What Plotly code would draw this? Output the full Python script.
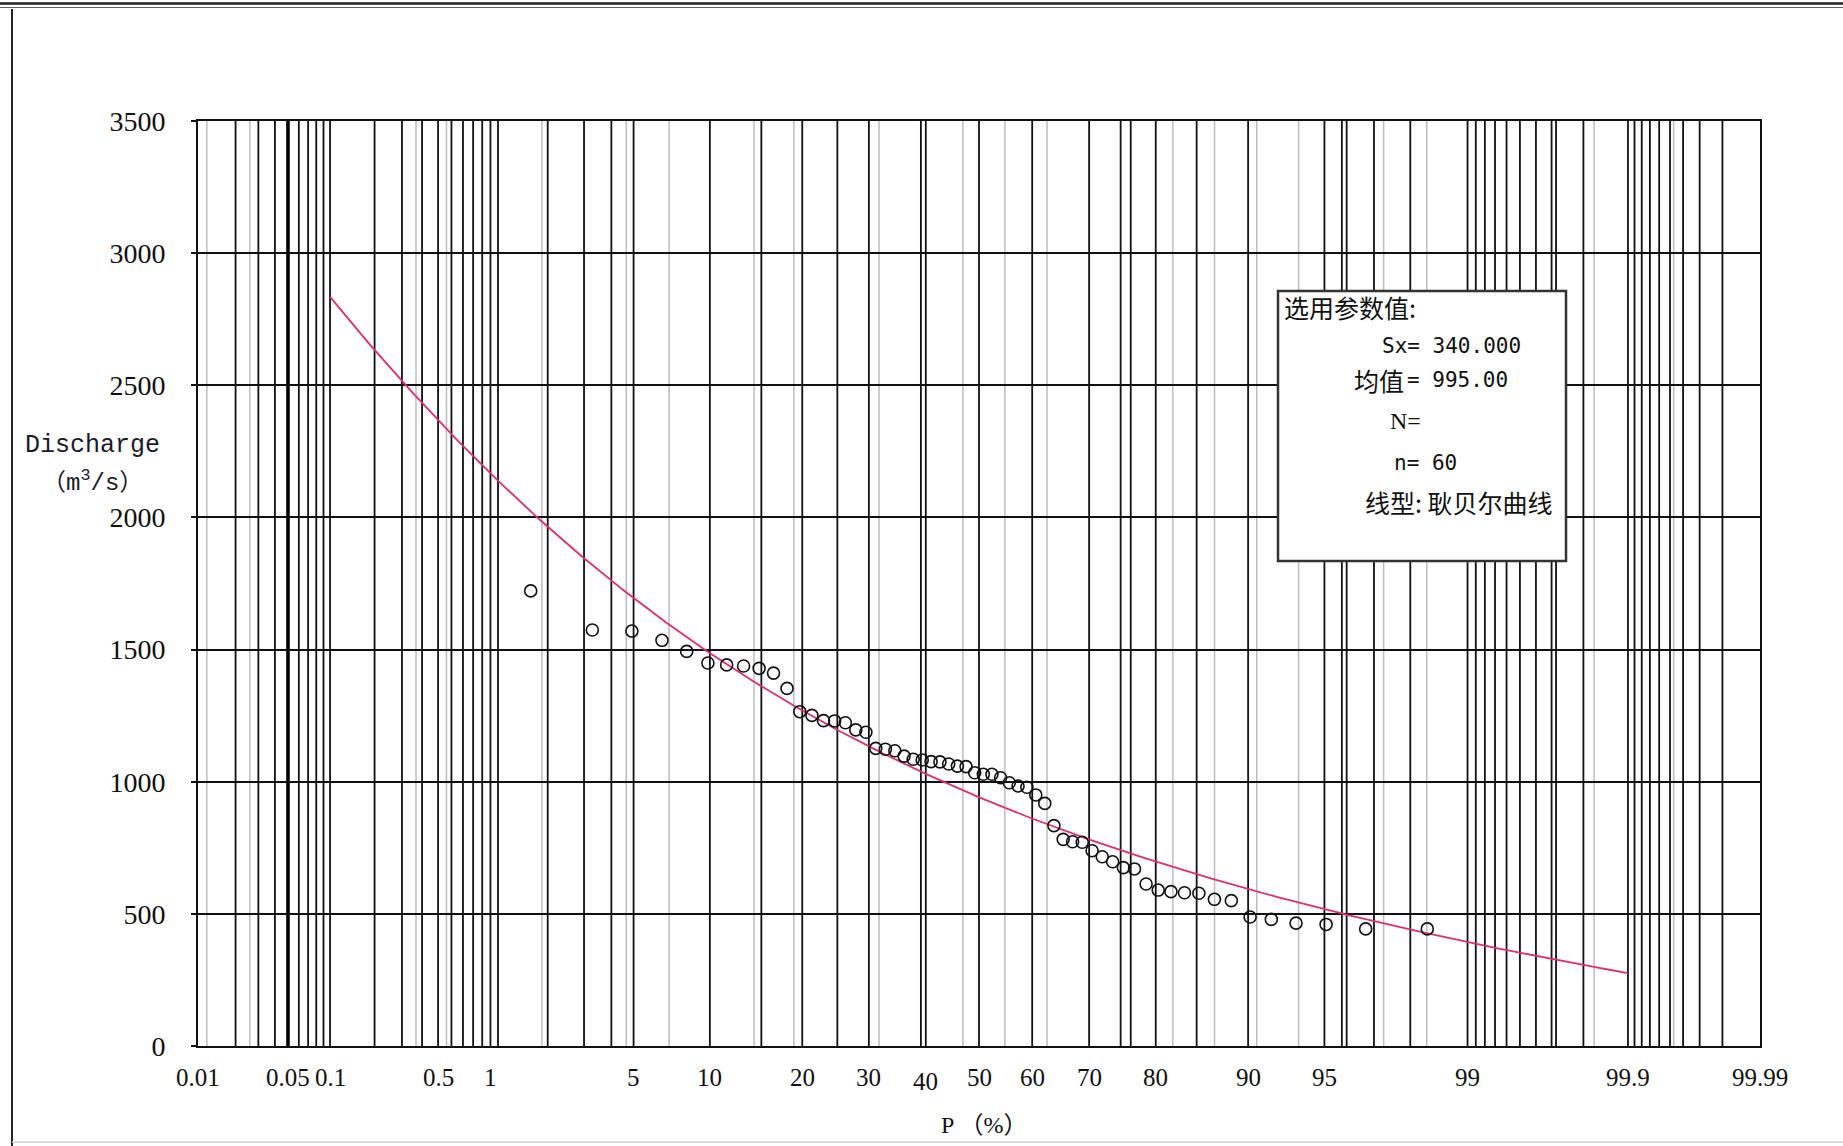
import math
from statistics import NormalDist
import numpy as np
import plotly.graph_objects as go

# ---------------- data ----------------
# Annual peak discharge series, ranked from largest to smallest (m3/s)
discharge = [
    1722, 1574, 1570, 1535, 1493, 1449, 1442, 1438, 1429, 1411,
    1353, 1265, 1251, 1231, 1230, 1223, 1196, 1187, 1126, 1123,
    1117, 1097, 1085, 1082, 1076, 1075, 1067, 1059, 1057, 1034,
    1028, 1028, 1015, 996, 984, 979, 950, 918, 834, 782,
    773, 771, 739, 716, 697, 675, 670, 613, 590, 584,
    580, 578, 555, 550, 488, 479, 465, 460, 443, 443,
]

# Selected Gumbel parameters
sx = 340.0
mean_q = 995.0
n_years = 60
# Expected mean / std of the reduced variate for a sample of 60
yn_mean = 0.5521
yn_std = 1.1747
curve_p_range = (0.1, 99.9)

# Probability-paper tick labels (%)
p_ticks = [0.01, 0.05, 0.1, 0.5, 1, 5, 10, 20, 30, 40, 50, 60, 70, 80,
           90, 95, 99, 99.9, 99.99]
p_tick_text = ["0.01", "0.05", "0.1", "0.5", "1", "5", "10", "20", "30", "40",
               "50", "60", "70", "80", "90", "95", "99", "99.9", "99.99"]

# Main (dark) vertical grid lines, %
p_grid_major = [
    0.02, 0.03, 0.04, 0.06, 0.07, 0.08, 0.09, 0.1,
    0.2, 0.3, 0.4, 0.5, 0.6, 0.7, 0.8, 0.9, 1.0, 1.1,
    2, 3, 4, 5, 10, 15, 20, 25, 30, 39.1, 40, 50, 60, 70, 75, 76.5,
    80, 85, 90, 95, 95.8, 96, 97, 98, 99,
    99.1, 99.2, 99.3, 99.4, 99.5, 99.6, 99.68, 99.7, 99.8, 99.9,
    99.91, 99.92, 99.93, 99.94, 99.95, 99.96, 99.97, 99.98,
]
p_grid_bold = [0.05]
# Light grey secondary grid lines, %
p_grid_light = [0.0118, 0.0258, 0.367, 0.561, 1.87, 4.65, 7.0, 14.2, 18.9,
                31.7, 46.95, 54.9, 62.7, 82.2, 86.9, 90.7, 93.6, 97.3, 98.35,
                99.83, 99.953]

y_ticks = [0, 500, 1000, 1500, 2000, 2500, 3000, 3500]

# ---------------- helpers ----------------
_nd = NormalDist()


def zpos(p_percent):
    """Position on normal probability paper for an exceedance percentage."""
    return _nd.inv_cdf(p_percent / 100.0)


W, H = 1843, 1146
L, R, T, B = 198, 1760, 121, 1046   # plot area in pixels


def px_x(x):
    return (x - L) / (R - L)


def px_y(y):
    return (B - y) / (B - T)


# empirical frequency P = m / (n + 1)
p_obs = [100.0 * (m + 1) / (n_years + 1) for m in range(len(discharge))]
x_obs = [zpos(p) for p in p_obs]

# theoretical Gumbel curve from the selected parameters
z_curve = np.linspace(zpos(curve_p_range[0]), zpos(curve_p_range[1]), 400)
p_curve = np.array([_nd.cdf(z) for z in z_curve])
y_red = -np.log(-np.log(1.0 - p_curve))
q_curve = mean_q + sx * (y_red - yn_mean) / yn_std

# ---------------- figure ----------------
fig = go.Figure()

fig.add_trace(go.Scatter(
    x=z_curve, y=q_curve, mode="lines",
    line=dict(color="#e62e6b", width=1.8),
    hoverinfo="skip", showlegend=False,
))
fig.add_trace(go.Scatter(
    x=x_obs, y=discharge, mode="markers",
    marker=dict(symbol="circle-open", size=12, color="#111111",
                line=dict(width=1.6, color="#111111")),
    showlegend=False,
))

shapes = []
for p in p_grid_light:
    shapes.append(dict(type="line", xref="x", yref="paper", x0=zpos(p), x1=zpos(p),
                       y0=0, y1=1, layer="below",
                       line=dict(color="#bdbdbd", width=1.5)))
for p in p_grid_major:
    shapes.append(dict(type="line", xref="x", yref="paper", x0=zpos(p), x1=zpos(p),
                       y0=0, y1=1, layer="below",
                       line=dict(color="#111111", width=1.8)))
for p in p_grid_bold:
    shapes.append(dict(type="line", xref="x", yref="paper", x0=zpos(p), x1=zpos(p),
                       y0=0, y1=1, layer="below",
                       line=dict(color="#000000", width=3.6)))

# page frame
shapes += [
    dict(type="line", xref="paper", yref="paper", x0=px_x(0), x1=px_x(W),
         y0=px_y(3.5), y1=px_y(3.5), line=dict(color="#222222", width=2.5)),
    dict(type="line", xref="paper", yref="paper", x0=px_x(0), x1=px_x(W),
         y0=px_y(7.5), y1=px_y(7.5), line=dict(color="#666666", width=1)),
    dict(type="line", xref="paper", yref="paper", x0=px_x(12), x1=px_x(12),
         y0=px_y(9), y1=px_y(H), line=dict(color="#222222", width=2)),
    dict(type="line", xref="paper", yref="paper", x0=px_x(12), x1=px_x(W),
         y0=px_y(1142), y1=px_y(1142), line=dict(color="#d0d0d0", width=1.5)),
]

# parameter box
shapes.append(dict(type="rect", xref="paper", yref="paper",
                   x0=px_x(1278), x1=px_x(1566), y0=px_y(561), y1=px_y(291),
                   fillcolor="white", line=dict(color="#333333", width=2.5),
                   layer="above"))
fig.update_layout(shapes=shapes)

ann = []
# x tick labels on the probability scale
for p, t in zip(p_ticks, p_tick_text):
    ann.append(dict(x=zpos(p), y=px_y(1077), xref="x", yref="paper", text=t,
                    showarrow=False, xanchor="center", yanchor="middle",
                    yshift=-4 if t == "40" else 0,
                    font=dict(family="Liberation Serif", size=25, color="#111111")))

# axis titles
ann.append(dict(x=px_x(984), y=px_y(1125), xref="paper", yref="paper",
                text="P （%）", showarrow=False, xanchor="center", yanchor="middle",
                font=dict(family="Liberation Serif, Noto Sans CJK SC", size=24,
                          color="#111111")))
ann.append(dict(x=px_x(92), y=px_y(446), xref="paper", yref="paper",
                text="Discharge", showarrow=False, xanchor="center", yanchor="middle",
                font=dict(family="Liberation Mono", size=25, color="#1a1a2a")))
ann.append(dict(x=px_x(92), y=px_y(481), xref="paper", yref="paper",
                text="（m<sup>3</sup>/s）", showarrow=False, xanchor="center",
                yanchor="middle",
                font=dict(family="Liberation Mono, Noto Sans CJK SC", size=24,
                          color="#1a1a2a")))

# text inside the parameter box
cjk = "Noto Sans CJK SC"
mono = "DejaVu Sans Mono"


def box_text(x, y, text, family, size, anchor="left"):
    ann.append(dict(x=px_x(x), y=px_y(y), xref="paper", yref="paper", text=text,
                    showarrow=False, xanchor=anchor, yanchor="middle",
                    font=dict(family=family, size=size, color="#111111")))


box_text(1282, 307, "选用参数值:", cjk, 25)
box_text(1380, 346, f"Sx= {sx:.3f}", mono, 21)
box_text(1406, 380, "均值", cjk, 25, anchor="right")
box_text(1405, 380, f"= {mean_q:.2f}", mono, 21)
box_text(1388, 421, "N=", "Liberation Serif", 24)
box_text(1392, 463, f"n= {n_years}", mono, 21)
box_text(1363, 502, "线型: 耿贝尔曲线", cjk, 25)

fig.update_layout(annotations=ann)

fig.update_layout(
    width=W, height=H, autosize=False,
    margin=dict(l=L, r=W - R, t=T, b=H - B, pad=0),
    paper_bgcolor="white", plot_bgcolor="white",
    xaxis=dict(range=[zpos(0.01), zpos(99.99)], showgrid=False, zeroline=False,
               showticklabels=False, ticks="", showline=True, mirror=True,
               linecolor="#111111", linewidth=2, fixedrange=True),
    yaxis=dict(range=[0, 3500], tickvals=y_ticks, ticks="outside", ticklen=5,
               tickcolor="#111111", tickwidth=1.5,
               showgrid=True, gridcolor="#111111", gridwidth=1.8, zeroline=False,
               showline=True, mirror=True, linecolor="#111111", linewidth=2,
               ticklabelstandoff=20,
               tickfont=dict(family="Liberation Serif", size=28, color="#111111"),
               fixedrange=True),
    showlegend=False,
)

fig.write_html("out.html")
